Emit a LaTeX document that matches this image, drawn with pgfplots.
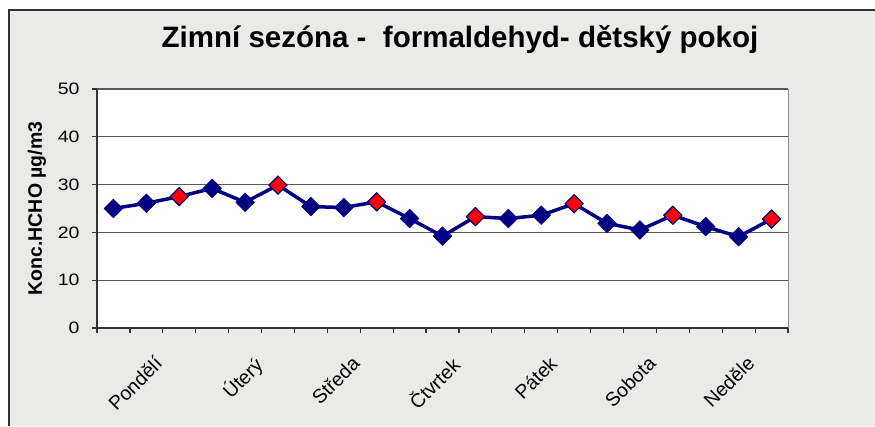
\documentclass[border=0pt]{standalone}
\usepackage{pgfplots}
\usepackage{pgfplotstable}
\pgfplotsset{compat=1.18}
\usepackage{fontspec}
\setmainfont{Liberation Sans}
\newfontfamily\tickfont[FakeStretch=1.18]{Liberation Sans}

\definecolor{bgtex}{RGB}{234,234,232}
\definecolor{navyline}{RGB}{0,0,128}

% one day = three readings
\pgfplotstableread{
x y
1 25.0
2 26.1
3 27.5
4 29.2
5 26.3
6 29.9
7 25.4
8 25.2
9 26.4
10 22.9
11 19.2
12 23.3
13 22.9
14 23.6
15 26.0
16 21.9
17 20.5
18 23.6
19 21.2
20 19.1
21 22.8
}\hchodata

% the third reading of each day (red marks)
\pgfplotstableread{
x y
3 27.5
6 29.9
9 26.4
12 23.3
15 26.0
18 23.6
21 22.8
}\hchored

\begin{document}
\begin{tikzpicture}[x=1pt,y=1pt]
\useasboundingbox (0,0) rectangle (875,426);
\fill[bgtex] (9,0) rectangle (875,416);
\draw[line width=2pt, black!80] (9,0) -- (9,416) -- (875,416);
\node[font=\fontsize{29.5}{31}\selectfont\bfseries, anchor=base] at (460,378)
  {Zimní sezóna -\ \ formaldehyd- dětský pokoj};

\begin{axis}[
  at={(97pt,98pt)}, anchor=south west,
  width=691pt, height=239pt, scale only axis,
  xmin=0.5, xmax=21.5, ymin=0, ymax=50,
  axis lines*=left,
  axis line style={black!80, line width=1.3pt},
  axis background/.style={fill=white},
  ytick={0,10,...,50},
  xtick={0.5,1.5,...,21.5}, xticklabels={},
  extra x ticks={2,5,8,11,14,17,20},
  extra x tick labels={Pondělí,Úterý,Středa,Čtvrtek,Pátek,Sobota,Neděle},
  extra x tick style={major tick length=0pt,
    tick label style={font=\fontsize{19.5}{21}\selectfont,
      xshift=7pt, yshift=-22pt, rotate=45, anchor=north east}},
  tick align=outside, major tick length=5pt,
  tick style={black!80, line width=1.2pt},
  ymajorgrids, major grid style={black!65, line width=1.1pt},
  yticklabel style={font=\tickfont\fontsize{16.5}{20}\selectfont, xshift=-9pt},
  /pgf/number format/assume math mode=true,
  ylabel={Konc.HCHO µg/m3},
  ylabel style={font=\fontsize{19.5}{21}\selectfont\bfseries,
    at={(axis description cs:-0.087,0.5)}, anchor=center},
  clip=false,
]
\draw[black!45, line width=1pt] (rel axis cs:1,0) -- (rel axis cs:1,1);
\addplot[navyline, line width=3.5pt, line join=round,
  mark=square*, mark size=6.6pt,
  mark options={rotate=45, solid, line width=0.6pt, draw=navyline, fill=navyline}]
  table[x=x, y=y] {\hchodata};
\addplot[only marks, mark=square*, mark size=6.3pt,
  mark options={rotate=45, solid, line width=0.9pt, draw=navyline, fill=red}]
  table[x=x, y=y] {\hchored};
\end{axis}
\end{tikzpicture}
\end{document}
